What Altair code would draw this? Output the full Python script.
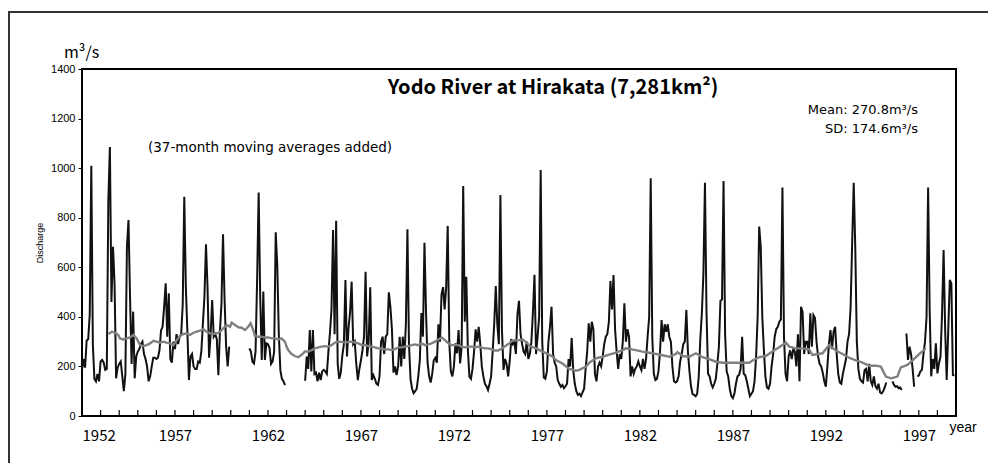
import altair as alt
import pandas as pd

# ---------------- data (monthly mean discharge, m3/s) ----------------
first_year = 1952
flow_1950s = [
    185, 230, 195, 305, 310, 410, 1010, 290, 150, 140, 170, 140,   # 1952
    220, 226, 215, 186, 190, 871, 1085, 460, 683, 535, 152, 195,   # 1953
    210, 220, 160, 100, 170, 683, 791, 480, 210, 421, 152, 240,    # 1954
    260, 270, 290, 300, 250, 230, 200, 140, 160, 200, 235, 235,    # 1955
    230, 235, 265, 345, 360, 440, 535, 320, 495, 230, 215, 300,    # 1956
    270, 330, 290, 320, 330, 450, 885, 522, 340, 145, 240, 250,    # 1957
    200, 190, 190, 220, 215, 260, 370, 480, 693, 520, 235, 330,    # 1958
    468, 320, 330, 310, 165, 340, 455, 733, 470, 280, 200, 280,    # 1959
]
flow_1960s = [
    None, None, None, None, None, None, None, None, None, None, None, None,  # 1960
    273, 260, 219, 212, 260, 550, 902, 480, 226, 502, 226, 293,    # 1961
    290, 275, 210, 220, 260, 741, 610, 330, 185, 150, 140, 125,    # 1962
    None, None, None, None, None, None, None, None, None, None, None, None,  # 1963
    142, 240, 190, 347, 180, 347, 170, 175, 140, 175, 145, 180,    # 1964
    186, 180, 170, 260, 335, 430, 750, 330, 788, 210, 150, 175,    # 1965
    245, 290, 549, 240, 355, 420, 542, 290, 300, 210, 145, 190,    # 1966
    225, 265, 320, 582, 240, 300, 519, 145, 165, 150, 130, 125,    # 1967
    160, 300, 320, 250, 320, 330, 499, 440, 350, 175, 200, 165,    # 1968
    200, 320, 200, 320, 230, 370, 753, 290, 150, 110, 92, 100,     # 1969
]
flow_1970s = [
    110, 160, 225, 415, 320, 699, 420, 215, 160, 135, 170, 225,    # 1970
    235, 215, 370, 300, 490, 520, 430, 520, 767, 300, 180, 160,    # 1971
    200, 293, 253, 347, 212, 280, 928, 380, 562, 266, 159, 150,    # 1972
    190, 260, 350, 300, 360, 290, 200, 160, 130, 120, 105, 130,    # 1973
    160, 260, 370, 524, 370, 290, 892, 347, 186, 230, 210, 160,    # 1974
    220, 310, 290, 300, 250, 410, 465, 330, 290, 260, 250, 300,    # 1975
    230, 250, 300, 420, 570, 250, 320, 400, 992, 300, 155, 150,    # 1976
    180, 300, 360, 441, 250, 215, 200, 145, 130, 118, 125, 112,    # 1977
    120, 130, 230, 200, 315, 185, 130, 100, 85, 90, 80, 95,        # 1978
    110, 190, 260, 374, 300, 380, 350, 170, 140, 200, 215, 200,    # 1979
]
flow_1980s = [
    240, 290, 320, 330, 380, 545, 430, 569, 350, 260, 190, 250,    # 1980
    230, 300, 455, 300, 350, 320, 160, 200, 170, 190, 200, 220,    # 1981
    200, 185, 230, 190, 230, 320, 400, 959, 320, 170, 145, 150,    # 1982
    180, 260, 387, 300, 370, 340, 370, 320, 300, 200, 140, 135,    # 1983
    140, 160, 220, 250, 290, 300, 428, 260, 180, 120, 88, 85,      # 1984
    80, 90, 160, 310, 414, 575, 941, 420, 170, 160, 130, 115,      # 1985
    130, 150, 210, 280, 465, 470, 948, 330, 180, 160, 110, 80,     # 1986
    72, 90, 130, 160, 165, 190, 320, 170, 165, 140, 110, 80,       # 1987
    90, 100, 140, 240, 400, 764, 683, 400, 270, 160, 115, 110,     # 1988
    130, 200, 250, 320, 350, 360, 380, 390, 922, 320, 170, 140,    # 1989
]
flow_1990s = [
    240, 265, 230, 270, 260, 200, 330, 140, 441, 420, 250, 300,    # 1990
    300, 250, 414, 280, 407, 395, 300, 240, 210, 200, 175, 140,    # 1991
    118, 200, 290, 347, 270, 340, 360, 250, 170, 135, 130, 170,    # 1992
    200, 230, 300, 330, 440, 700, 941, 680, 300, 190, 150, 140,    # 1993
    135, 185, 190, 140, 210, 140, 125, 160, 120, 110, 130, 95,     # 1994
    91, 100, 115, 135, None, None, None, 140, 125, 118, 120, 112,  # 1995
    115, 105, None, None, 333, 226, 280, 250, 190, 118, None, 160, # 1996
    163, 180, 186, 250, 300, 400, 922, 428, 160, 230, 190, 293,    # 1997
    172, 212, 239, 414, 670, 347, 145, 347, 549, 535, 165, 163,    # 1998
]

# 37-month moving average (year, m3/s)
ma_year = [
    1953.42, 1953.60, 1953.77, 1953.95, 1954.04, 1954.22, 1954.40, 1954.58, 1954.76, 1954.94,
    1955.12, 1955.30, 1955.48, 1955.66, 1955.84, 1956.01, 1956.19, 1956.37, 1956.55, 1956.73,
    1956.91, 1957.09, 1957.27, 1957.45, 1957.63, 1957.81, 1957.99, 1958.16, 1958.34, 1958.52,
    1958.70, 1958.88, 1959.06, 1959.24, 1959.42, 1959.60, 1959.78, 1959.96, 1960.05, 1960.23,
    1960.41, 1960.58, 1960.76, 1960.94, 1961.07, 1961.21, 1961.30, 1961.48, 1961.66, 1961.84,
    1962.02, 1962.20, 1962.38, 1962.56, 1962.73, 1962.91, 1963.00, 1963.09, 1963.27, 1963.45,
    1963.63, 1963.81, 1963.99, 1964.17, 1964.35, 1964.53, 1964.71, 1964.89, 1965.06, 1965.24,
    1965.42, 1965.60, 1965.78, 1965.96, 1966.14, 1966.32, 1966.50, 1966.68, 1966.86, 1967.04,
    1967.22, 1967.39, 1967.57, 1967.75, 1967.93, 1968.11, 1968.29, 1968.47, 1968.65, 1968.83,
    1969.01, 1969.19, 1969.37, 1969.55, 1969.72, 1969.90, 1970.08, 1970.26, 1970.44, 1970.62,
    1970.80, 1970.98, 1971.16, 1971.34, 1971.52, 1971.70, 1971.87, 1972.05, 1972.23, 1972.41,
    1972.59, 1972.77, 1972.95, 1973.13, 1973.31, 1973.49, 1973.67, 1973.85, 1974.03, 1974.20,
    1974.38, 1974.62, 1974.97, 1975.15, 1975.51, 1975.69, 1975.96, 1976.05, 1976.41, 1976.77,
    1977.13, 1977.31, 1977.48, 1977.84, 1978.20, 1978.56, 1978.74, 1979.10, 1979.28, 1979.63,
    1979.99, 1980.35, 1980.71, 1981.07, 1981.25, 1981.78, 1982.14, 1982.50, 1982.86, 1983.22,
    1983.58, 1983.93, 1984.02, 1984.29, 1984.65, 1985.01, 1985.37, 1985.73, 1986.09, 1986.45,
    1986.80, 1987.16, 1987.52, 1987.88, 1988.06, 1988.42, 1988.77, 1989.13, 1989.49, 1989.85,
    1990.03, 1990.39, 1990.75, 1991.10, 1991.28, 1991.82, 1992.18, 1992.54, 1992.90, 1993.25,
    1993.61, 1993.97, 1994.33, 1994.69, 1994.96, 1995.23, 1995.50, 1995.85, 1996.03, 1996.39,
    1996.66, 1997.02, 1997.38,
]
ma_value = [
    331, 340, 336, 327, 313, 309, 313, 317, 327, 313,
    286, 282, 286, 293, 303, 300, 296, 300, 296, 293,
    286, 306, 323, 331, 333, 327, 336, 340, 344, 350,
    340, 333, 331, 333, 340, 354, 367, 360, 377, 367,
    358, 356, 347, 360, 374, 347, 323, 320, 320, 317,
    317, 313, 313, 309, 313, 300, 280, 266, 250, 242,
    237, 247, 260, 260, 266, 273, 277, 280, 282, 280,
    286, 296, 300, 299, 296, 299, 300, 296, 293, 286,
    286, 282, 280, 277, 273, 273, 269, 269, 266, 270,
    277, 277, 280, 282, 286, 289, 286, 293, 286, 289,
    293, 300, 309, 317, 306, 293, 286, 286, 286, 280,
    277, 280, 280, 277, 280, 276, 273, 273, 269, 264,
    264, 274, 293, 304, 306, 309, 293, 283, 273, 260,
    247, 239, 226, 212, 190, 183, 186, 199, 215, 233,
    239, 248, 256, 266, 273, 266, 260, 255, 250, 245,
    239, 250, 258, 242, 239, 253, 237, 229, 219, 215,
    215, 215, 215, 215, 224, 237, 242, 260, 277, 296,
    280, 273, 273, 269, 246, 253, 286, 264, 250, 235,
    224, 215, 203, 203, 199, 159, 152, 159, 196, 206,
    224, 250, 273,
]

x_labels = [1952, 1957, 1962, 1967, 1972, 1977, 1982, 1987, 1992, 1997]
y_ticks = [0, 200, 400, 600, 800, 1000, 1200, 1400]
tick_years = list(range(1953, 1999))

title_text = "Yodo River at Hirakata (7,281km²)"
mean_text = "Mean: 270.8m³/s"
sd_text = "SD: 174.6m³/s"
note_text = "(37-month moving averages added)"

# ---------------- build tables ----------------
flow = flow_1950s + flow_1960s + flow_1970s + flow_1980s + flow_1990s
rows = []
seg = 0
prev_none = True
for i, v in enumerate(flow):
    if v is None:
        if not prev_none:
            seg += 1
        prev_none = True
        continue
    prev_none = False
    rows.append({"t": first_year + i / 12.0, "q": v, "seg": seg})
flow_df = pd.DataFrame(rows)
ma_df = pd.DataFrame({"t": ma_year, "q": ma_value})
tick_df = pd.DataFrame({"t": tick_years})
one = pd.DataFrame({"a": [0]})

FONT = "Noto Sans CJK JP"
FONT2 = "DejaVu Sans"
W, H = 874, 347

xscale = alt.Scale(domain=[1952, 1999], nice=False, zero=False)
yscale = alt.Scale(domain=[0, 1400], nice=False)

x_axis = alt.Axis(values=x_labels, format="d", ticks=False, domain=False, grid=False,
                  labelFontSize=15, labelPadding=12, labelColor="black", labelFont=FONT,
                  title="year", titleFontSize=14, titleFontWeight="normal",
                  titleFont="Liberation Sans",
                  titleX=867, titleY=15, titleAlign="left", titleBaseline="alphabetic",
                  titleColor="black")
y_axis = alt.Axis(values=y_ticks, format="d", grid=False, domain=False, tickSize=4,
                  tickColor="black", tickWidth=1, labelFontSize=11, labelPadding=3,
                  labelColor="black", labelFont="Liberation Sans",
                  title="Discharge", titleFontSize=9, titleFontWeight="normal",
                  titleFont="Liberation Sans", titleColor="black", titleAngle=270,
                  titleX=-43, titleY=H / 2, titleAlign="center", titleBaseline="middle")

flow_line = alt.Chart(flow_df).mark_line(color="#111111", strokeWidth=2).encode(
    x=alt.X("t:Q", scale=xscale, axis=x_axis),
    y=alt.Y("q:Q", scale=yscale, axis=y_axis),
    detail="seg:N",
)
ma_line = alt.Chart(ma_df).mark_line(color="#808080", strokeWidth=2.4).encode(
    x=alt.X("t:Q", scale=xscale),
    y=alt.Y("q:Q", scale=yscale),
)
ticks = alt.Chart(tick_df).mark_rule(color="black", strokeWidth=1.2).encode(
    x=alt.X("t:Q", scale=xscale),
    y=alt.value(H),
    y2=alt.value(H - 6),
)

def txt(text, x, y, size, align="left", weight="normal", font=FONT, baseline="middle"):
    return alt.Chart(one).mark_text(text=text, align=align, baseline=baseline,
                                    fontSize=size, fontWeight=weight, font=font,
                                    color="black").encode(x=alt.value(x), y=alt.value(y))

title = txt(title_text, 471, 19, 20, align="center", weight="bold")
mean = txt(mean_text, 836, 41, 13, align="right", font=FONT2)
sd = txt(sd_text, 836, 60, 13, align="right", font=FONT2)
note = txt(note_text, 66, 79, 13.5, font=FONT2)
unit = txt("m³/s", -18, -11, 16, baseline="alphabetic")

frame_left = alt.Chart(one).mark_rule(color="#333333", strokeWidth=2).encode(
    x=alt.value(-73), y=alt.value(-57), y2=alt.value(H + 60))
frame_top = alt.Chart(one).mark_rule(color="#333333", strokeWidth=2).encode(
    x=alt.value(-74), x2=alt.value(W + 40), y=alt.value(-57))

chart = alt.layer(
    flow_line, ma_line, ticks, title, mean, sd, note, unit, frame_left, frame_top
).properties(
    width=W, height=H,
    autosize=alt.AutoSizeParams(type="none"),
    padding={"left": 74, "top": 61, "right": 32, "bottom": 47},
    background="white",
).configure_view(
    stroke="black", strokeWidth=2
)

chart.save("out.html", embed_options={"renderer": "svg", "actions": False})
